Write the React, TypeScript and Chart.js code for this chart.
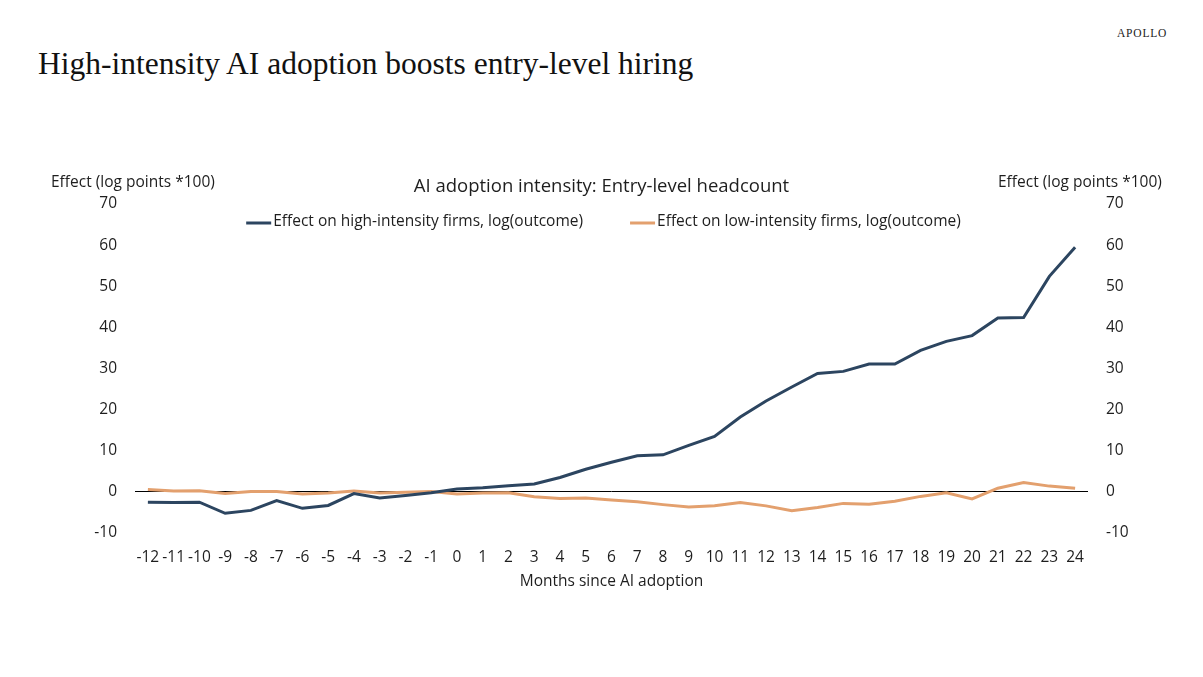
import React, { useEffect, useRef } from 'react';
import { Chart, registerables } from 'chart.js';

Chart.register(...registerables);

// ---- Data ----
const months: string[] = [
  '-12', '-11', '-10', '-9', '-8', '-7', '-6', '-5', '-4', '-3', '-2', '-1',
  '0', '1', '2', '3', '4', '5', '6', '7', '8', '9', '10', '11', '12',
  '13', '14', '15', '16', '17', '18', '19', '20', '21', '22', '23', '24',
];

const highIntensity: number[] = [
  -2.5, -2.6, -2.5, -5.2, -4.5, -2.1, -4.0, -3.3, -0.4, -1.5, -0.9, -0.2,
  0.7, 1.0, 1.5, 1.9, 3.5, 5.5, 7.2, 8.8, 9.0, 11.3, 13.5, 18.2, 22.1,
  25.5, 28.8, 29.3, 31.1, 31.1, 34.4, 36.6, 38.0, 42.3, 42.4, 52.4, 59.5,
];

const lowIntensity: number[] = [
  0.6, 0.2, 0.3, -0.4, 0.1, 0.1, -0.5, -0.3, 0.2, -0.3, -0.1, 0.1,
  -0.5, -0.3, -0.2, -1.2, -1.6, -1.5, -2.0, -2.4, -3.1, -3.7, -3.4, -2.6, -3.4,
  -4.6, -3.8, -2.8, -3.0, -2.3, -1.1, -0.2, -1.7, 0.9, 2.3, 1.4, 0.9,
];

const seriesLabels: string[] = [
  'Effect on high-intensity firms, log(outcome)',
  'Effect on low-intensity firms, log(outcome)',
];

const yMin = -10;
const yMax = 70;
const yStep = 10;

const pageTitle = 'High-intensity AI adoption boosts entry-level hiring';
const brand = 'APOLLO';
const chartTitle = 'AI adoption intensity: Entry-level headcount';
const yAxisTitle = 'Effect (log points *100)';
const xAxisTitle = 'Months since AI adoption';

const SANS = '"Open Sans", "Noto Sans", sans-serif';
const TEXT = '#1e1e1e';
const BLUE = '#2c4560';
const ORANGE = '#e3a06e';

export default function App() {
  const canvasRef = useRef<HTMLCanvasElement>(null);

  useEffect(() => {
    if (!canvasRef.current) return;

    const textPlugin = {
      id: 'customTexts',
      afterDraw(chart: any) {
        const ctx = chart.ctx as CanvasRenderingContext2D;
        const area = chart.chartArea;
        ctx.save();
        ctx.fillStyle = TEXT;
        ctx.textBaseline = 'middle';

        // chart title
        ctx.font = `18.5px ${SANS}`;
        ctx.textAlign = 'center';
        ctx.fillText(chartTitle, chart.width / 2, 187);

        // axis titles
        ctx.font = `15.5px ${SANS}`;
        ctx.textAlign = 'left';
        ctx.fillText(yAxisTitle, 51, 183);
        ctx.fillText(yAxisTitle, 998, 183);
        ctx.textAlign = 'center';
        ctx.fillText(xAxisTitle, (area.left + area.right) / 2, 582);

        // legend
        ctx.font = `15.5px ${SANS}`;
        const lineW = 25;
        const gapText = 2;
        const gapItems = 47;
        const ds = chart.data.datasets;
        const widths = ds.map((d: any) => ctx.measureText(d.label).width);
        const total =
          widths.reduce((a: number, w: number) => a + lineW + gapText + w, 0) +
          gapItems * (ds.length - 1);
        let x = 603.5 - total / 2;
        const ly = 222;
        ds.forEach((d: any, i: number) => {
          ctx.strokeStyle = d.borderColor;
          ctx.lineWidth = 3;
          ctx.beginPath();
          ctx.moveTo(x, ly + 1);
          ctx.lineTo(x + lineW, ly + 1);
          ctx.stroke();
          ctx.textAlign = 'left';
          ctx.fillStyle = TEXT;
          ctx.fillText(d.label, x + lineW + gapText, ly);
          x += lineW + gapText + widths[i] + gapItems;
        });
        ctx.restore();
      },
    };

    const chart = new Chart(canvasRef.current, {
      type: 'line',
      data: {
        labels: months,
        datasets: [
          {
            label: seriesLabels[0],
            data: highIntensity,
            borderColor: BLUE,
            backgroundColor: BLUE,
            borderWidth: 3,
            pointRadius: 0,
            tension: 0,
            yAxisID: 'y',
          },
          {
            label: seriesLabels[1],
            data: lowIntensity,
            borderColor: ORANGE,
            backgroundColor: ORANGE,
            borderWidth: 3,
            pointRadius: 0,
            tension: 0,
            yAxisID: 'y',
          },
        ],
      },
      options: {
        responsive: true,
        maintainAspectRatio: false,
        animation: false,
        devicePixelRatio: 1,
        layout: { padding: { left: 0, right: 0, top: 204, bottom: 84 } },
        plugins: {
          legend: { display: false },
          title: { display: false },
          tooltip: { enabled: false },
        },
        scales: {
          x: {
            type: 'category',
            offset: true,
            grid: { display: false, drawTicks: false },
            border: { display: false },
            ticks: {
              autoSkip: false,
              maxRotation: 0,
              minRotation: 0,
              padding: 15,
              color: TEXT,
              font: { family: SANS, size: 15.5 },
            },
            afterFit: (s: any) => {
              s.height = 60;
            },
          },
          y: {
            position: 'left',
            min: yMin,
            max: yMax,
            grid: {
              drawTicks: false,
              lineWidth: 1,
              color: (c: any) => (c.tick && c.tick.value === 0 ? '#000000' : 'rgba(0,0,0,0)'),
            },
            border: { display: false },
            ticks: {
              stepSize: yStep,
              padding: 18,
              color: TEXT,
              font: { family: SANS, size: 15.5 },
            },
            afterFit: (s: any) => {
              s.width = 135;
            },
          },
          y2: {
            position: 'right',
            display: true,
            min: yMin,
            max: yMax,
            grid: { display: false, drawTicks: false },
            border: { display: false },
            ticks: {
              stepSize: yStep,
              padding: 18,
              color: TEXT,
              font: { family: SANS, size: 15.5 },
            },
            afterFit: (s: any) => {
              s.width = 115;
            },
          },
        },
      },
      plugins: [textPlugin],
    });

    return () => {
      chart.destroy();
    };
  }, []);

  return (
    <div style={{ position: 'absolute', left: 0, top: 0, width: 1203, height: 677, background: '#fff' }}>
      <div
        style={{
          position: 'absolute',
          left: 1117,
          top: 26,
          fontFamily: '"Liberation Serif", serif',
          fontSize: 11.5,
          letterSpacing: 0.8,
          lineHeight: '14px',
          color: '#222',
          whiteSpace: 'nowrap',
        }}
      >
        {brand}
      </div>
      <div
        style={{
          position: 'absolute',
          left: 38,
          top: 48,
          fontFamily: '"Liberation Serif", serif',
          fontSize: 31.5,
          lineHeight: '31.5px',
          color: '#111',
          whiteSpace: 'nowrap',
        }}
      >
        {pageTitle}
      </div>
      <div style={{ position: 'absolute', left: 0, top: 0, width: 1203, height: 677 }}>
        <canvas ref={canvasRef} />
      </div>
    </div>
  );
}
